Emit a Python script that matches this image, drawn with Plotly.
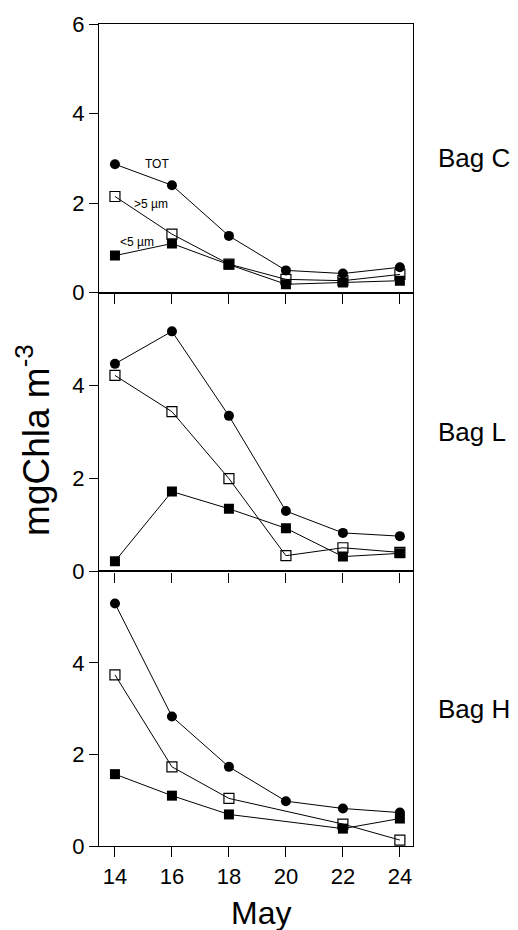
import plotly.graph_objects as go
from plotly.subplots import make_subplots

days = [14, 16, 18, 20, 22, 24]
bags = ["Bag C", "Bag L", "Bag H"]

# Bag C
c_tot = [2.87, 2.40, 1.27, 0.50, 0.43, 0.57]
c_gt5 = [2.15, 1.31, 0.64, 0.30, 0.27, 0.41]
c_lt5 = [0.83, 1.10, 0.63, 0.19, 0.23, 0.27]
# Bag L
l_tot = [4.47, 5.17, 3.35, 1.30, 0.83, 0.76]
l_gt5 = [4.22, 3.44, 2.00, 0.34, 0.51, 0.41]
l_lt5 = [0.22, 1.72, 1.35, 0.93, 0.32, 0.39]
# Bag H (no size fractions on day 20)
h_tot = [5.30, 2.83, 1.73, 0.98, 0.82, 0.73]
h_gt5 = [3.74, 1.73, 1.04, None, 0.48, 0.13]
h_lt5 = [1.57, 1.10, 0.69, None, 0.38, 0.60]

series = [
    (c_tot, c_gt5, c_lt5),
    (l_tot, l_gt5, l_lt5),
    (h_tot, h_gt5, h_lt5),
]

yticks_top = [0, 2, 4, 6]
yticks_other = [0, 2, 4]

FONT = "Liberation Sans, Arial, sans-serif"

fig = make_subplots(rows=3, cols=1, shared_xaxes=False, vertical_spacing=0)

for i, (tot, gt5, lt5) in enumerate(series):
    r = i + 1
    fig.add_trace(go.Scatter(
        x=days, y=gt5, mode="lines+markers", connectgaps=True,
        line=dict(color="black", width=1),
        marker=dict(symbol="square-open", size=10, color="black", line=dict(width=1.2)),
        showlegend=False), row=r, col=1)
    fig.add_trace(go.Scatter(
        x=days, y=lt5, mode="lines+markers", connectgaps=True,
        line=dict(color="black", width=1),
        marker=dict(symbol="square", size=10, color="black"),
        showlegend=False), row=r, col=1)
    fig.add_trace(go.Scatter(
        x=days, y=tot, mode="lines+markers", connectgaps=True,
        line=dict(color="black", width=1),
        marker=dict(symbol="circle", size=10, color="black"),
        showlegend=False), row=r, col=1)

domains = [[0.673, 1.0], [0.334, 0.673], [0.0, 0.334]]

for i in range(3):
    r = i + 1
    tv = yticks_top if i == 0 else yticks_other
    fig.update_yaxes(
        domain=domains[i], range=[0, 6],
        tickvals=tv, ticktext=[str(v) for v in tv],
        ticks="outside", ticklen=9, tickwidth=1, tickcolor="black",
        showline=True, linecolor="black", linewidth=1.2, mirror=True,
        showgrid=False, zeroline=False,
        tickfont=dict(family=FONT, size=22, color="black"),
        row=r, col=1)
    fig.update_xaxes(
        range=[13.44, 24.46], tickvals=days,
        ticks="outside", ticklen=10, tickwidth=1, tickcolor="black",
        showline=True, linecolor="black", linewidth=1.2, mirror=True,
        showgrid=False, zeroline=False,
        showticklabels=(i == 2),
        tickfont=dict(family=FONT, size=22, color="black"),
        row=r, col=1)

annotations = []
for i, name in enumerate(bags):
    yref = "y domain" if i == 0 else f"y{i+1} domain"
    xref = "x domain" if i == 0 else f"x{i+1} domain"
    annotations.append(dict(
        text=name, x=1.073, y=0.5, xref=xref, yref=yref,
        xanchor="left", yanchor="middle", showarrow=False,
        font=dict(family=FONT, size=26, color="black")))

# series labels in Bag C panel
labels = [("TOT", 15.47, 2.88), (">5 µm", 15.26, 1.99), ("<5 µm", 14.77, 1.13)]
for t, lx, ly in labels:
    annotations.append(dict(
        text=t, x=lx, y=ly, xref="x", yref="y", showarrow=False,
        xanchor="center", yanchor="middle",
        font=dict(family=FONT, size=12, color="black")))

annotations.append(dict(
    text="mgChla m<sup>-3</sup>", x=-0.207, y=0.494, xref="paper", yref="paper",
    textangle=-90, showarrow=False, xanchor="center", yanchor="middle",
    font=dict(family=FONT, size=37, color="black")))
annotations.append(dict(
    text="May", x=0.515, y=-0.081, xref="paper", yref="paper",
    showarrow=False, xanchor="center", yanchor="middle",
    font=dict(family=FONT, size=32, color="black")))

fig.update_layout(
    width=518, height=930,
    margin=dict(l=99, r=105, t=20, b=84),
    plot_bgcolor="white", paper_bgcolor="white",
    annotations=annotations,
)

fig.write_html(
    "out.html",
    config={"displayModeBar": False},
    post_script="document.body.style.margin='0';document.body.style.overflow='hidden';",
)
